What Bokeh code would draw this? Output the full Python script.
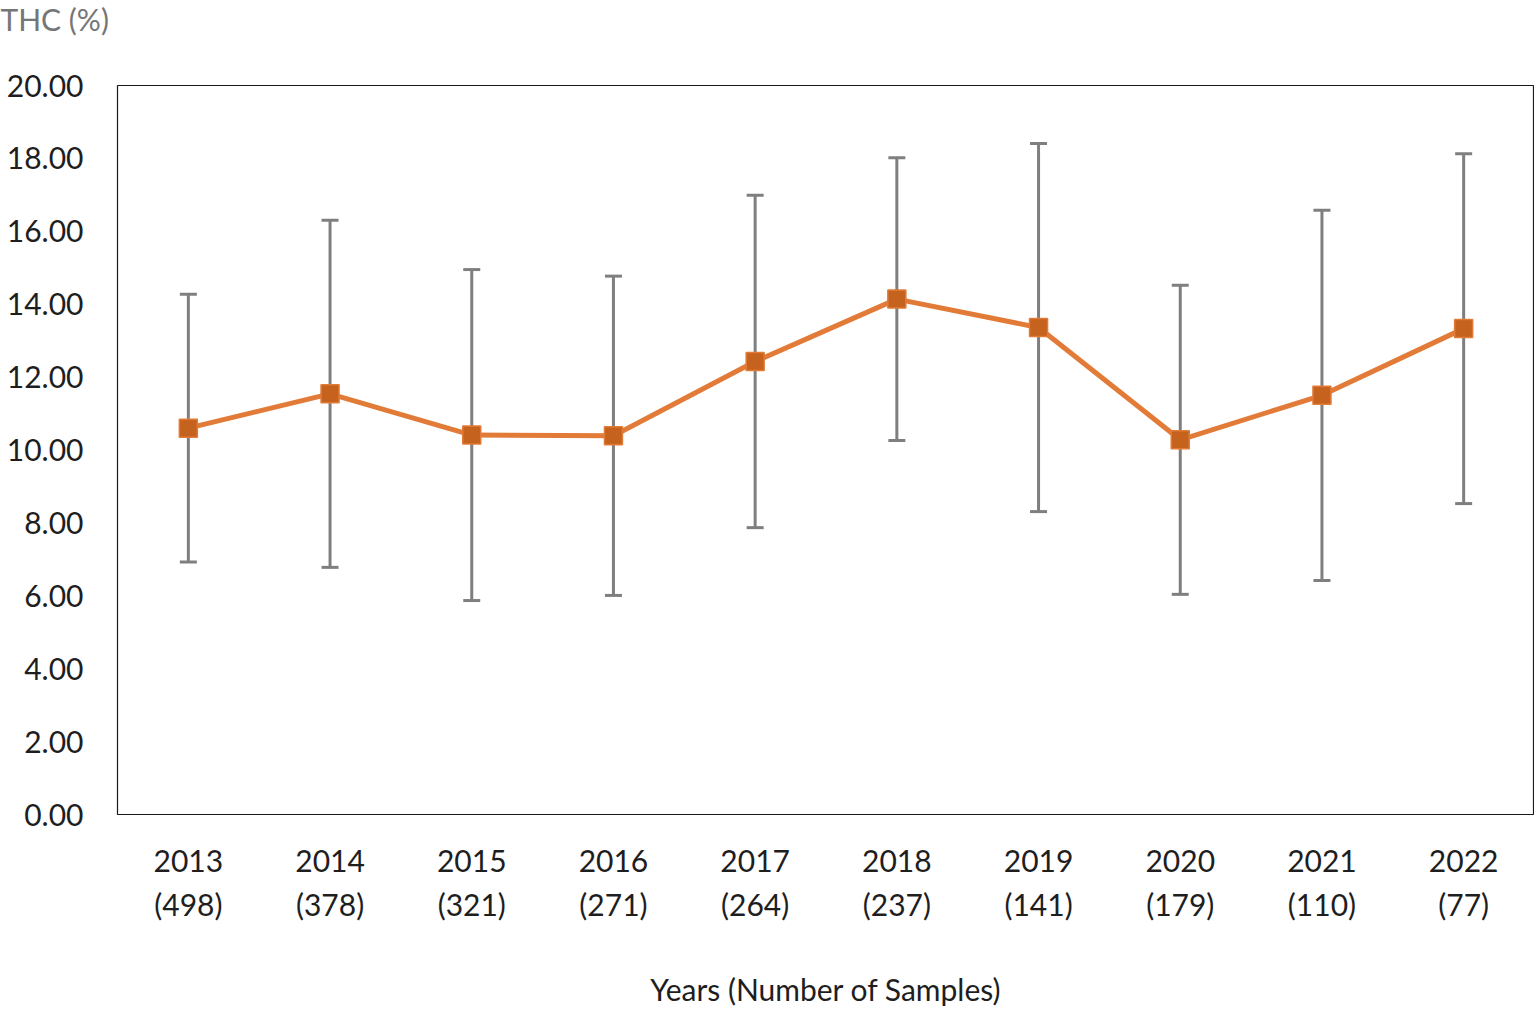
from bokeh.plotting import figure
from bokeh.models import (Range1d, FactorRange, FixedTicker, NumeralTickFormatter, CategoricalAxis,
                          CustomJSTickFormatter, Title)
from bokeh.embed import file_html
from bokeh.resources import INLINE

years = ["2013", "2014", "2015", "2016", "2017", "2018", "2019", "2020", "2021", "2022"]
samples = [498, 378, 321, 271, 264, 237, 141, 179, 110, 77]
thc_mean = [10.60, 11.54, 10.41, 10.39, 12.43, 14.14, 13.36, 10.28, 11.50, 13.33]
thc_sd = [3.67, 4.76, 4.54, 4.38, 4.56, 3.88, 5.05, 4.24, 5.08, 4.80]
y_ticks = [0, 2, 4, 6, 8, 10, 12, 14, 16, 18, 20]

FONT = "Lato"
TXT = "#1e1e1e"
lower = [m - s for m, s in zip(thc_mean, thc_sd)]
upper = [m + s for m, s in zip(thc_mean, thc_sd)]

p = figure(title=None, x_range=FactorRange(*years, range_padding=0), y_range=Range1d(0, 20),
           frame_width=1417, frame_height=729,
           min_border_left=117, min_border_top=81, min_border_right=0, min_border_bottom=183,
           output_backend="svg", toolbar_location=None, background_fill_color="white",
           border_fill_color="white")

# spacer panel between the frame and the unit label
p.add_layout(Title(text=" ", text_font_size="1px", standoff=44), "above")
p.add_layout(Title(text="THC (%)", align="left", offset=-117, vertical_align="top", standoff=0,
                   text_font=FONT, text_font_size="30px", text_color="#767676",
                   text_font_style="normal"), "above")

p.outline_line_color = "#1a1a1a"
p.outline_line_width = 1.2
p.xgrid.visible = False
p.ygrid.visible = False

p.yaxis.ticker = FixedTicker(ticks=y_ticks)
p.yaxis.formatter = NumeralTickFormatter(format="0.00")

count_labels = {y: f"({n})" for y, n in zip(years, samples)}
ax2 = CategoricalAxis(formatter=CustomJSTickFormatter(args=dict(labels=count_labels),
                                                      code="return labels[tick];"))
p.add_layout(ax2, "below")

for ax in (p.xaxis[0], p.yaxis[0], ax2):
    ax.axis_line_color = None
    ax.major_tick_line_color = None
    ax.minor_tick_line_color = None
    ax.major_label_text_font = FONT
    ax.major_label_text_font_size = "30px"
    ax.major_label_text_color = TXT
p.yaxis.major_label_standoff = 28
p.xaxis[0].major_label_standoff = 29
ax2.major_label_standoff = 5
ax2.axis_label = "Years (Number of Samples)"
ax2.axis_label_text_font = FONT
ax2.axis_label_text_font_size = "30px"
ax2.axis_label_text_font_style = "normal"
ax2.axis_label_text_color = TXT
ax2.axis_label_standoff = 46

err_color = "#7f7f7f"
p.segment(x0=years, y0=lower, x1=years, y1=upper, line_color=err_color, line_width=3)
p.scatter(x=years, y=upper, marker="dash", size=17, line_color=err_color, line_width=3)
p.scatter(x=years, y=lower, marker="dash", size=17, line_color=err_color, line_width=3)

p.line(x=years, y=thc_mean, line_color="#E27B37", line_width=5)
p.scatter(x=years, y=thc_mean, marker="square", size=18, fill_color="#C5621E",
          line_color="#E27B37", line_width=1.5)

open("out.html", "w").write(file_html(p, INLINE))
